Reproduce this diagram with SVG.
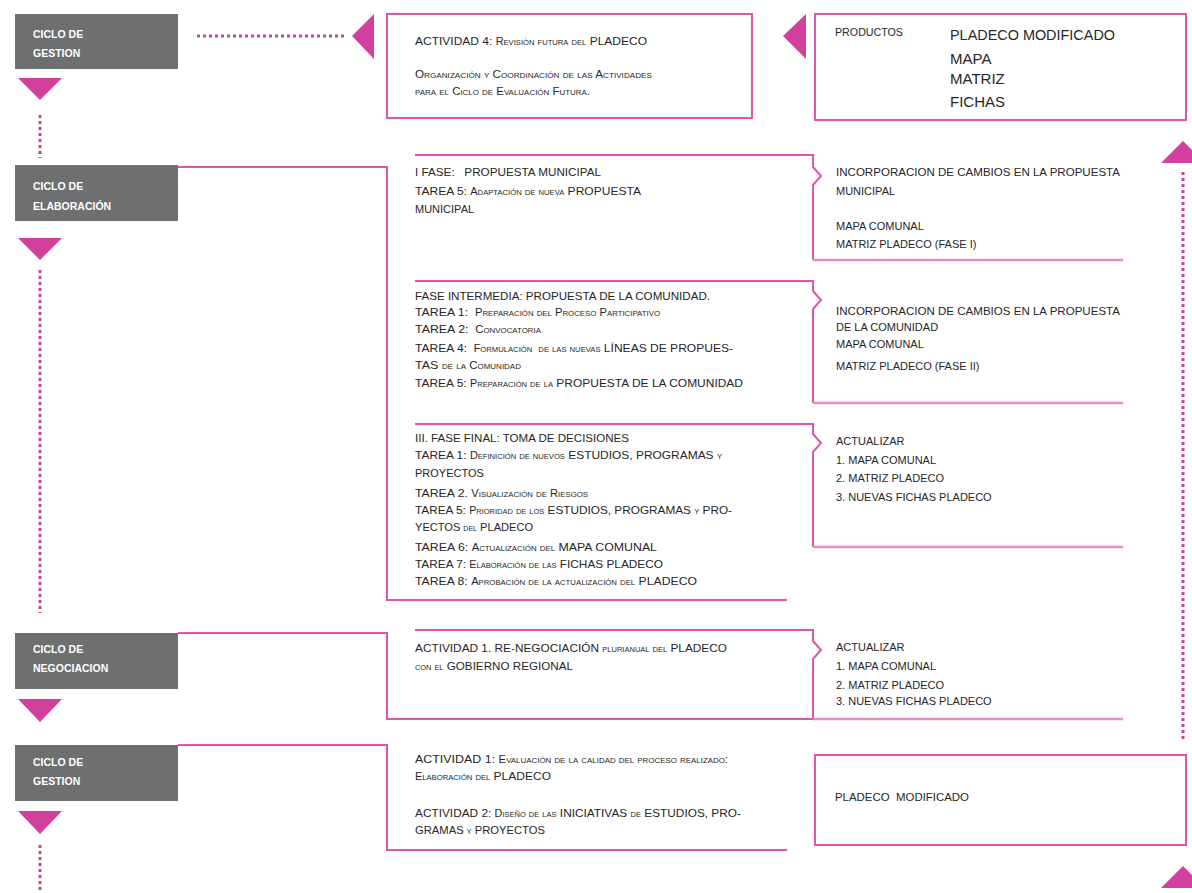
<svg xmlns="http://www.w3.org/2000/svg" width="1192" height="893" viewBox="0 0 1192 893">
<style>
.bg{fill:#ffffff}
.cyc{fill:#6e6f71}
.cyt{fill:#ffffff;font-family:"Liberation Sans",Arial,sans-serif;font-size:10.5px;font-weight:bold}
.tri{fill:#d23f9f}
.ln{fill:none;stroke:#dc56ab;stroke-width:2}
.pale{fill:none;stroke:#e88cc7;stroke-width:2.5}
.box{fill:#ffffff;stroke:#dc56ab;stroke-width:2}
.dot{fill:none;stroke:#d23f9f;stroke-width:3;stroke-dasharray:3 3}
.t{fill:#262626;font-family:"Liberation Sans",Arial,sans-serif;font-size:11px}
.s{font-variant:small-caps;font-size:10px}
.big{fill:#262626;font-family:"Liberation Sans",Arial,sans-serif;font-size:15px}
</style>
<rect class="bg" x="0" y="0" width="1192" height="893"/>

<g id="connectors">
  <path class="dot" d="M40,115 V158"/>
  <path class="dot" d="M40,270 V613"/>
  <path class="dot" d="M40,845 V893"/>
  <path class="dot" d="M197,36 H346"/>
  <path class="dot" d="M1183,172 V741"/>
  <polygon class="tri" points="374,14 374,59 352,36"/>
  <polygon class="tri" points="806,14 806,59 783,36"/>
  <polygon class="tri" points="1161,163 1205,163 1183,141"/>
  <polygon class="tri" points="1161,888 1205,888 1183,866"/>
  <path class="ln" d="M178,167 H387 V600 H787"/>
  <path class="ln" d="M178,633 H387 V719 H813"/>
  <path class="ln" d="M178,745 H387 V850 H787"/>
  <path class="ln" d="M415,155 H813 V167 L821,176 L813,185 V260"/>
  <path class="pale" d="M813,260 H1123"/>
  <path class="ln" d="M415,281 H813 V291 L821,300 L813,309 V403"/>
  <path class="pale" d="M813,403 H1123"/>
  <path class="ln" d="M415,424 H813 V434 L821,443 L813,452 V547"/>
  <path class="pale" d="M813,547 H1123"/>
  <path class="ln" d="M415,630 H813 V641 L821,650 L813,659 V719"/>
  <path class="pale" d="M813,719 H1123"/>
</g>

<g id="ciclo-gestion-1">
  <rect class="cyc" x="15" y="14" width="163" height="55"/>
  <text class="cyt" x="33" y="38">CICLO DE</text>
  <text class="cyt" x="33" y="57">GESTION</text>
  <polygon class="tri" points="18,78 62,78 40,100"/>
</g>

<g id="ciclo-elaboracion">
  <rect class="cyc" x="15" y="165" width="163" height="56"/>
  <text class="cyt" x="33" y="190">CICLO DE</text>
  <text class="cyt" x="33" y="210">ELABORACIÓN</text>
  <polygon class="tri" points="18,238 62,238 40,260"/>
</g>

<g id="ciclo-negociacion">
  <rect class="cyc" x="15" y="633" width="163" height="56"/>
  <text class="cyt" x="33" y="653">CICLO DE</text>
  <text class="cyt" x="33" y="672">NEGOCIACION</text>
  <polygon class="tri" points="18,699 62,699 40,722"/>
</g>

<g id="ciclo-gestion-2">
  <rect class="cyc" x="15" y="745" width="163" height="56"/>
  <text class="cyt" x="33" y="766">CICLO DE</text>
  <text class="cyt" x="33" y="785">GESTION</text>
  <polygon class="tri" points="18,811 62,811 40,834"/>
</g>

<g id="actividad-4">
  <rect class="box" x="387" y="14" width="365" height="104"/>
  <text class="t" x="415" y="45" textLength="232" lengthAdjust="spacingAndGlyphs">ACTIVIDAD 4: <tspan class="s">Revisión futura del</tspan> PLADECO</text>
  <text class="t s" x="415" y="78" textLength="237" lengthAdjust="spacingAndGlyphs">Organización y Coordinación de las Actividades</text>
  <text class="t s" x="415" y="95" textLength="175" lengthAdjust="spacingAndGlyphs">para el Ciclo de Evaluación Futura.</text>
</g>

<g id="productos">
  <rect class="box" x="815" y="14" width="371" height="106"/>
  <text class="t" x="835" y="36" style="font-size:10px" textLength="68" lengthAdjust="spacingAndGlyphs">PRODUCTOS</text>
  <text class="big" x="950" y="40" textLength="165" lengthAdjust="spacingAndGlyphs">PLADECO MODIFICADO</text>
  <text class="big" x="950" y="64">MAPA</text>
  <text class="big" x="950" y="84">MATRIZ</text>
  <text class="big" x="950" y="107">FICHAS</text>
</g>

<g id="fase-1">
  <text class="t" x="415" y="176" textLength="186" lengthAdjust="spacingAndGlyphs" xml:space="preserve">I FASE:   PROPUESTA MUNICIPAL</text>
  <text class="t" x="415" y="195" textLength="226" lengthAdjust="spacingAndGlyphs">TAREA 5: <tspan class="s">Adaptación de nueva</tspan> PROPUESTA</text>
  <text class="t" x="415" y="213">MUNICIPAL</text>
</g>

<g id="fase-1-producto">
  <text class="t" x="836" y="176" textLength="284" lengthAdjust="spacingAndGlyphs">INCORPORACION DE CAMBIOS EN LA PROPUESTA</text>
  <text class="t" x="836" y="195">MUNICIPAL</text>
  <text class="t" x="836" y="230">MAPA COMUNAL</text>
  <text class="t" x="836" y="248">MATRIZ PLADECO (FASE I)</text>
</g>

<g id="fase-intermedia">
  <text class="t" x="415" y="300" textLength="295" lengthAdjust="spacingAndGlyphs">FASE INTERMEDIA: PROPUESTA DE LA COMUNIDAD.</text>
  <text class="t" x="415" y="316" textLength="245" lengthAdjust="spacingAndGlyphs" xml:space="preserve">TAREA 1:  <tspan class="s">Preparación del Proceso Participativo</tspan></text>
  <text class="t" x="415" y="333" textLength="126" lengthAdjust="spacingAndGlyphs" xml:space="preserve">TAREA 2:  <tspan class="s">Convocatoria</tspan></text>
  <text class="t" x="415" y="352" textLength="318" lengthAdjust="spacingAndGlyphs" xml:space="preserve">TAREA 4:  <tspan class="s">Formulación  de las nuevas</tspan> LÍNEAS DE PROPUES-</text>
  <text class="t" x="415" y="369" textLength="106" lengthAdjust="spacingAndGlyphs">TAS <tspan class="s">de la Comunidad</tspan></text>
  <text class="t" x="415" y="387" textLength="328" lengthAdjust="spacingAndGlyphs">TAREA 5: <tspan class="s">Preparación de la</tspan> PROPUESTA DE LA COMUNIDAD</text>
</g>

<g id="fase-intermedia-producto">
  <text class="t" x="836" y="315" textLength="284" lengthAdjust="spacingAndGlyphs">INCORPORACION DE CAMBIOS EN LA PROPUESTA</text>
  <text class="t" x="836" y="331">DE LA COMUNIDAD</text>
  <text class="t" x="836" y="348">MAPA COMUNAL</text>
  <text class="t" x="836" y="370">MATRIZ PLADECO (FASE II)</text>
</g>

<g id="fase-final">
  <text class="t" x="415" y="442" textLength="214" lengthAdjust="spacingAndGlyphs">III. FASE FINAL: TOMA DE DECISIONES</text>
  <text class="t" x="415" y="459" textLength="307" lengthAdjust="spacingAndGlyphs">TAREA 1: <tspan class="s">Definición de nuevos</tspan> ESTUDIOS, PROGRAMAS <tspan class="s">y</tspan></text>
  <text class="t" x="415" y="477">PROYECTOS</text>
  <text class="t" x="415" y="497" textLength="173" lengthAdjust="spacingAndGlyphs">TAREA 2. <tspan class="s">Visualización de Riesgos</tspan></text>
  <text class="t" x="415" y="514" textLength="317" lengthAdjust="spacingAndGlyphs">TAREA 5: <tspan class="s">Prioridad de los</tspan> ESTUDIOS, PROGRAMAS <tspan class="s">y</tspan> PRO-</text>
  <text class="t" x="415" y="531" textLength="118" lengthAdjust="spacingAndGlyphs">YECTOS <tspan class="s">del</tspan> PLADECO</text>
  <text class="t" x="415" y="551" textLength="242" lengthAdjust="spacingAndGlyphs">TAREA 6: <tspan class="s">Actualización del</tspan> MAPA COMUNAL</text>
  <text class="t" x="415" y="568" textLength="248" lengthAdjust="spacingAndGlyphs">TAREA 7: <tspan class="s">Elaboración de las</tspan> FICHAS PLADECO</text>
  <text class="t" x="415" y="585" textLength="282" lengthAdjust="spacingAndGlyphs">TAREA 8: <tspan class="s">Aprobación de la actualización del</tspan> PLADECO</text>
</g>

<g id="fase-final-producto">
  <text class="t" x="836" y="445">ACTUALIZAR</text>
  <text class="t" x="836" y="464">1. MAPA COMUNAL</text>
  <text class="t" x="836" y="482">2. MATRIZ PLADECO</text>
  <text class="t" x="836" y="501">3. NUEVAS FICHAS PLADECO</text>
</g>

<g id="negociacion-actividad">
  <text class="t" x="415" y="652" textLength="312" lengthAdjust="spacingAndGlyphs">ACTIVIDAD 1. RE-NEGOCIACIÓN <tspan class="s">plurianual del</tspan> PLADECO</text>
  <text class="t" x="415" y="670" textLength="158" lengthAdjust="spacingAndGlyphs"><tspan class="s">con el</tspan> GOBIERNO REGIONAL</text>
</g>

<g id="negociacion-producto">
  <text class="t" x="836" y="651">ACTUALIZAR</text>
  <text class="t" x="836" y="670">1. MAPA COMUNAL</text>
  <text class="t" x="836" y="689">2. MATRIZ PLADECO</text>
  <text class="t" x="836" y="705">3. NUEVAS FICHAS PLADECO</text>
</g>

<g id="gestion-actividades">
  <text class="t" x="415" y="763" textLength="313" lengthAdjust="spacingAndGlyphs">ACTIVIDAD 1: <tspan class="s">Evaluación de la calidad del proceso realizado:</tspan></text>
  <text class="t" x="415" y="780" textLength="136" lengthAdjust="spacingAndGlyphs"><tspan class="s">Elaboración del</tspan> PLADECO</text>
  <text class="t" x="415" y="817" textLength="326" lengthAdjust="spacingAndGlyphs">ACTIVIDAD 2: <tspan class="s">Diseño de las</tspan> INICIATIVAS <tspan class="s">de</tspan> ESTUDIOS, PRO-</text>
  <text class="t" x="415" y="834" textLength="130" lengthAdjust="spacingAndGlyphs">GRAMAS <tspan class="s">y</tspan> PROYECTOS</text>
</g>

<g id="pladeco-modificado">
  <rect class="box" x="815" y="755" width="371" height="90"/>
  <text class="t" x="835" y="801" textLength="134" lengthAdjust="spacingAndGlyphs" xml:space="preserve">PLADECO  MODIFICADO</text>
</g>
</svg>
